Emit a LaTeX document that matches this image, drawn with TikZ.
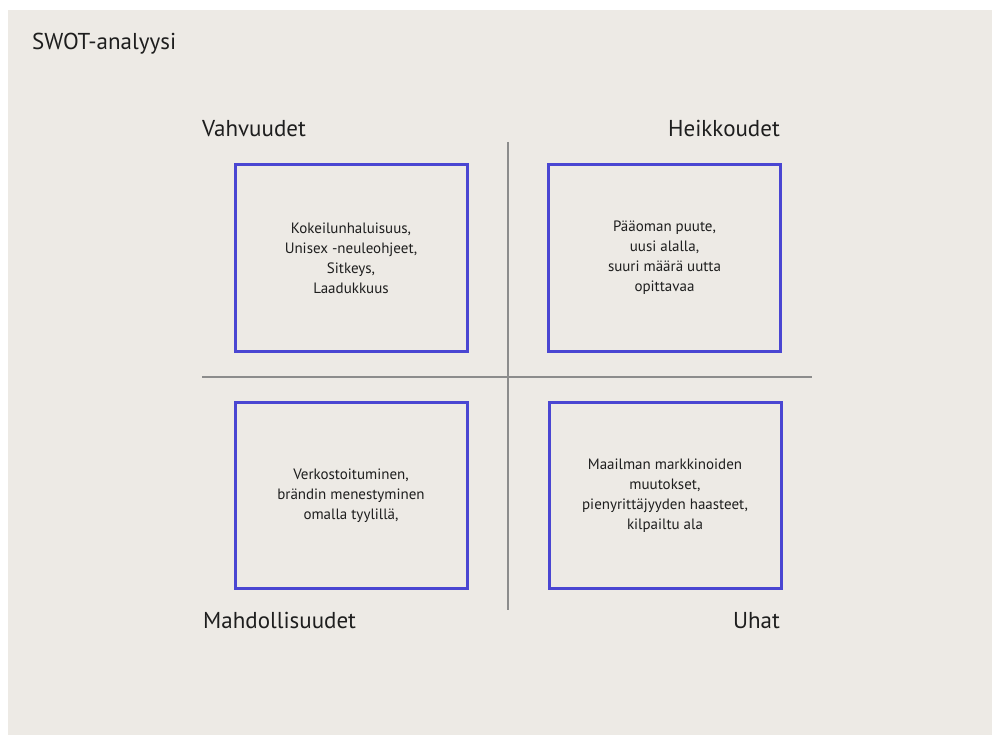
\documentclass[tikz,border=0pt]{standalone}
\usepackage{fontspec}
\setmainfont{PT Sans}
\definecolor{bg}{HTML}{EDEAE5}
\definecolor{boxblue}{HTML}{4A46D2}
\definecolor{divgray}{HTML}{8C8C8C}
\definecolor{ink}{HTML}{1E1E1E}
\begin{document}
\begin{tikzpicture}[x=1pt,y=-1pt,
  quad/.style={draw=boxblue,line width=3pt,minimum width=232pt,minimum height=186pt,
    align=center,text=ink,inner sep=0pt,font=\fontsize{15}{20}\selectfont},
  heading/.style={text=ink,inner sep=0pt,font=\fontsize{23}{26}\selectfont},
  divider/.style={draw=divgray,line width=1.3pt}]
\useasboundingbox (0,0) rectangle (992,735);
\fill[white] (0,0) rectangle (992,735);
\fill[bg] (8,10) rectangle (992,735);
\node[heading,anchor=base west] (title) at (32,50) {SWOT-analyysi};
\node[heading,anchor=base west] (s) at (202,137) {Vahvuudet};
\node[heading,anchor=base east] (w) at (780,137) {Heikkoudet};
\node[heading,anchor=base west] (o) at (203,628) {Mahdollisuudet};
\node[heading,anchor=base east] (t) at (780,628) {Uhat};
\coordinate (vtop) at (508,142);
\coordinate (vbot) at (508,610);
\coordinate (hl) at (202,377);
\coordinate (hr) at (812,377);
\draw[divider] (vtop) -- (vbot);
\draw[divider] (hl) -- (hr);
\node[quad] (sbox) at (351,258) {Kokeilunhaluisuus,\\Unisex -neuleohjeet,\\Sitkeys,\\Laadukkuus};
\node[quad] (wbox) at (664.5,258) {Pääoman puute,\\uusi alalla,\\suuri määrä uutta\\opittavaa};
\node[quad] (obox) at (351,495.5) {Verkostoituminen,\\brändin menestyminen\\omalla tyylillä,};
\node[quad] (tbox) at (665,495.5) {Maailman markkinoiden\\muutokset,\\pienyrittäjyyden haasteet,\\kilpailtu ala};
\end{tikzpicture}
\end{document}
